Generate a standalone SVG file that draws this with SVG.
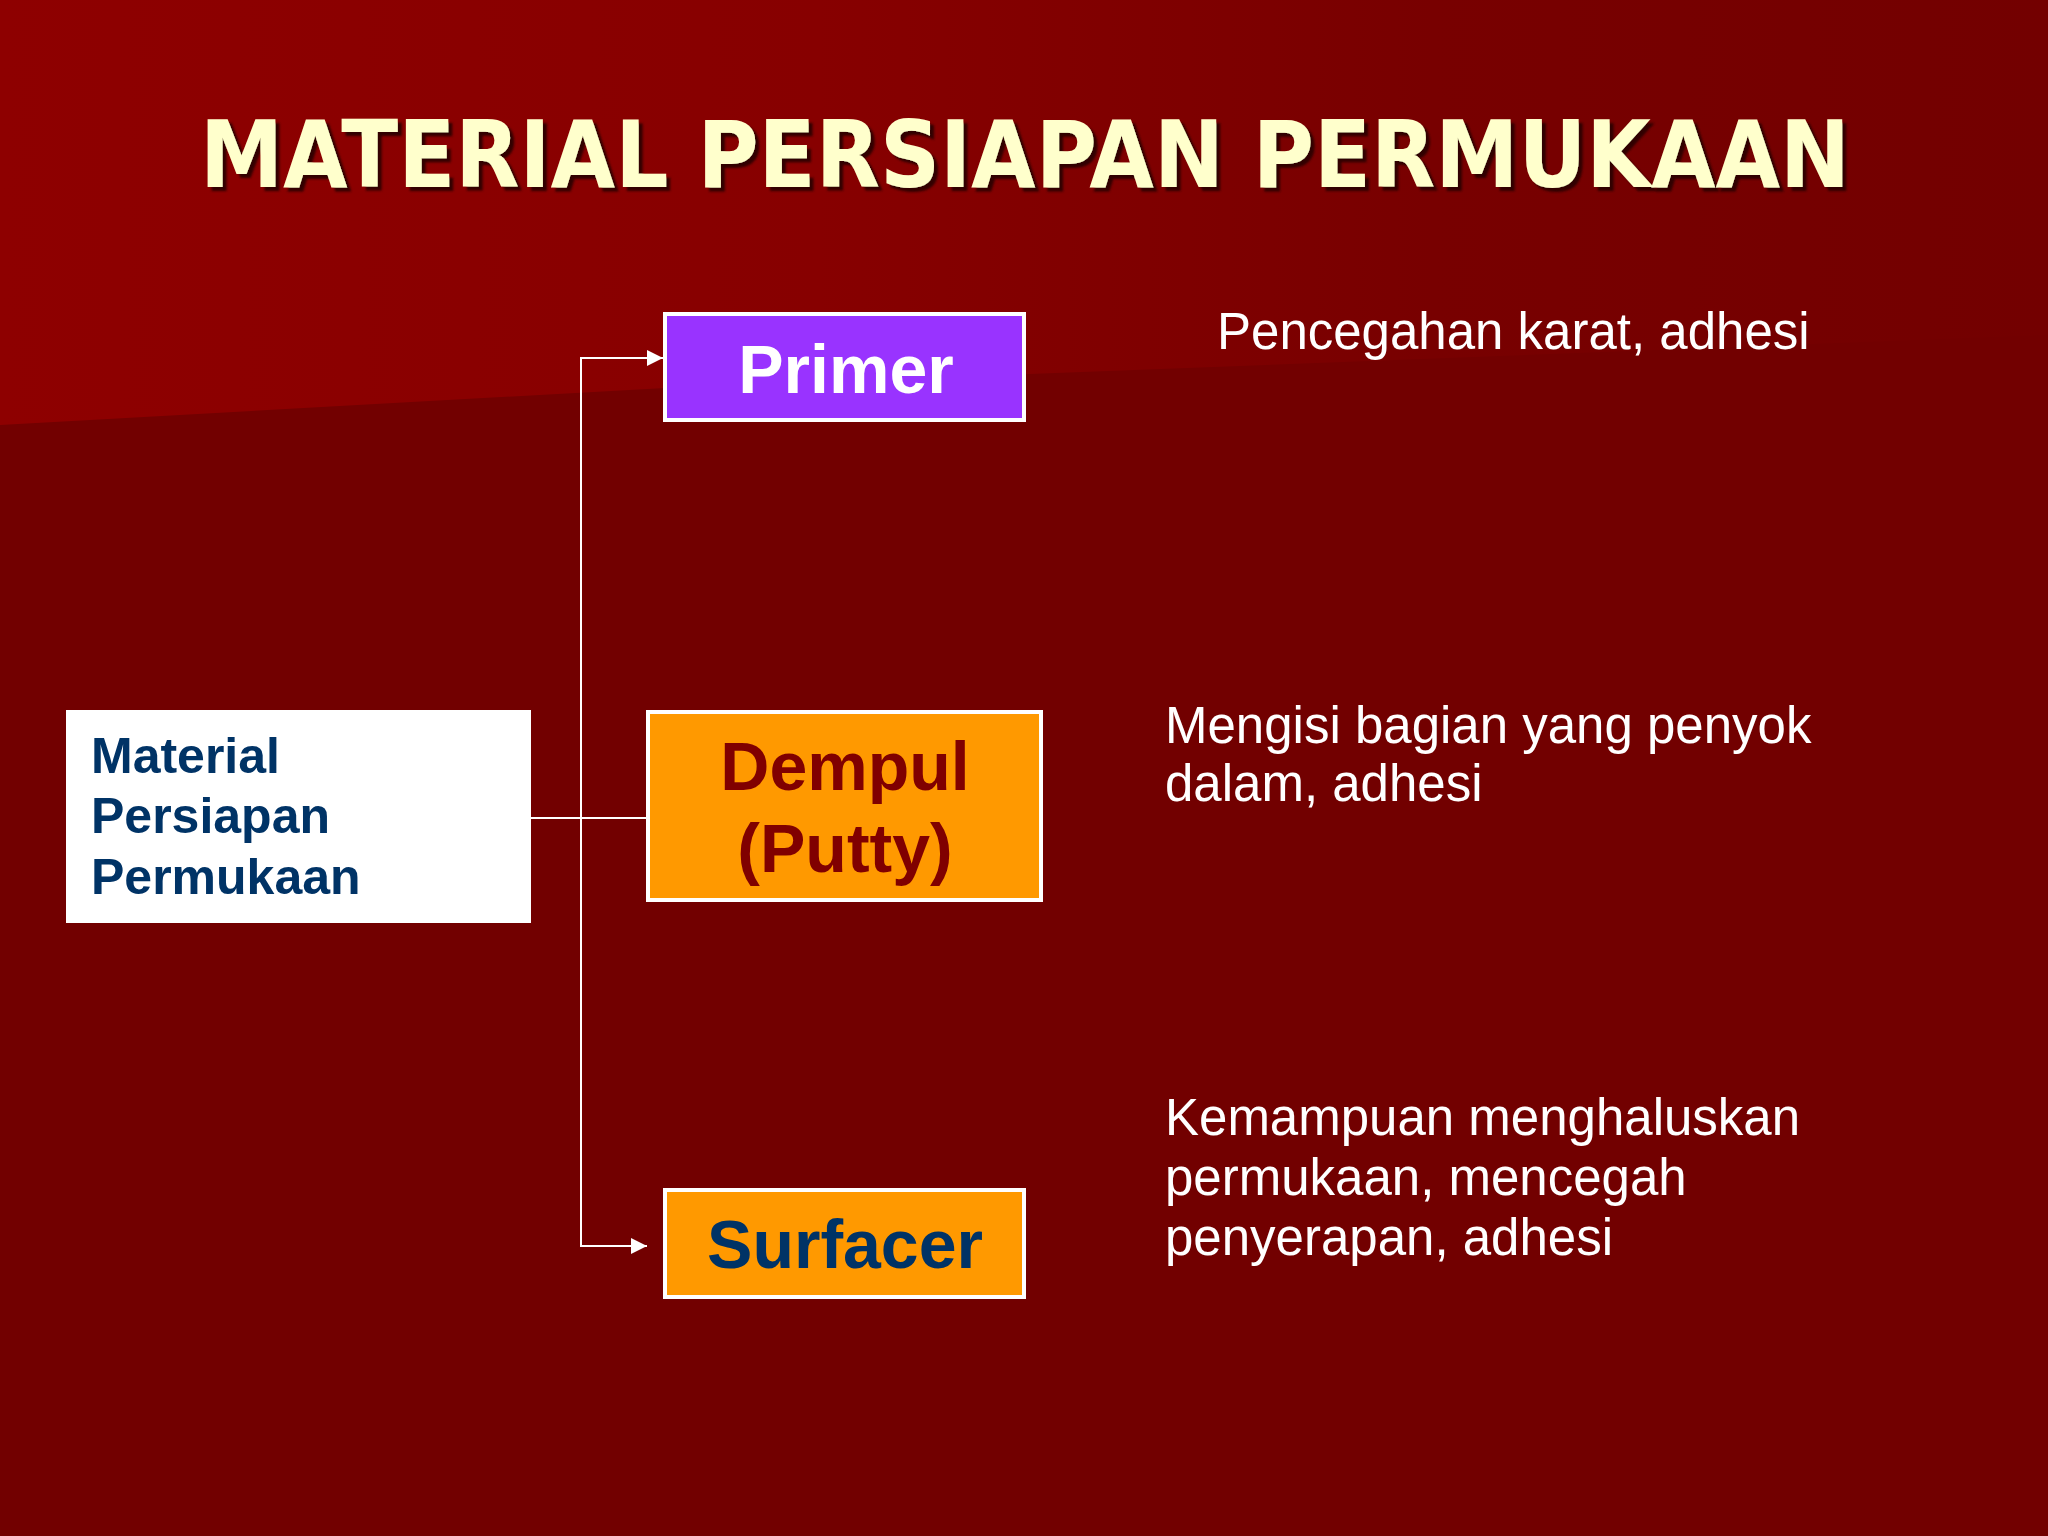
<svg xmlns="http://www.w3.org/2000/svg" width="2048" height="1536" viewBox="0 0 2048 1536">
  <defs>
    <linearGradient id="wedge" x1="0" y1="0" x2="1" y2="0">
      <stop offset="0" stop-color="#8E0000"/>
      <stop offset="0.4" stop-color="#870000"/>
      <stop offset="0.7" stop-color="#780000"/>
      <stop offset="1" stop-color="#730000"/>
    </linearGradient>
    <marker id="arrow" viewBox="0 0 16 16" refX="16" refY="8" markerWidth="16" markerHeight="16" markerUnits="userSpaceOnUse" orient="auto">
      <path d="M0,0 L16,8 L0,16 Z" fill="#FFFFFF"/>
    </marker>
    <filter id="shadow" x="-5%" y="-20%" width="110%" height="140%">
      <feDropShadow dx="4" dy="4" stdDeviation="1" flood-color="#2A0000" flood-opacity="0.9"/>
    </filter>
  </defs>
  <style>
    .box { stroke: #FFFFFF; stroke-width: 4; }
    .lbl { font-family: "Liberation Sans", Arial, sans-serif; font-weight: bold; text-anchor: middle; }
    .desc { font-family: "Liberation Sans", Arial, sans-serif; font-size: 51px; fill: #FFFFFF; }
    .conn { fill: none; stroke: #FFFFFF; stroke-width: 2; }
  </style>

  <!-- background -->
  <rect x="0" y="0" width="2048" height="1536" fill="#720000"/>
  <path d="M0,0 H2048 V335 L665,388 L0,425 Z" fill="url(#wedge)"/>

  <!-- title -->
  <text x="1025" y="187" text-anchor="middle" font-family="'DejaVu Sans', Verdana, sans-serif" font-weight="bold" font-size="93" fill="#FFFFCC" textLength="1650" lengthAdjust="spacingAndGlyphs" filter="url(#shadow)">MATERIAL PERSIAPAN PERMUKAAN</text>

  <!-- connectors -->
  <g id="connectors">
    <path class="conn" d="M531,818 H646"/>
    <path class="conn" d="M581,818 V358 H663" marker-end="url(#arrow)"/>
    <path class="conn" d="M581,818 V1246 H647" marker-end="url(#arrow)"/>
  </g>

  <!-- nodes -->
  <g id="node-material">
    <rect x="66" y="710" width="465" height="213" fill="#FFFFFF"/>
    <text font-family="'Liberation Sans', Arial, sans-serif" font-weight="bold" font-size="50" fill="#003366">
      <tspan x="91" y="773">Material</tspan>
      <tspan x="91" y="833">Persiapan</tspan>
      <tspan x="91" y="894">Permukaan</tspan>
    </text>
  </g>

  <g id="node-primer">
    <rect class="box" x="665" y="314" width="359" height="106" fill="#9933FF"/>
    <text class="lbl" x="846" y="393" font-size="68" fill="#FFFFFF">Primer</text>
  </g>

  <g id="node-dempul">
    <rect class="box" x="648" y="712" width="393" height="188" fill="#FF9900"/>
    <text class="lbl" x="845" y="790" font-size="68" fill="#800000">Dempul</text>
    <text class="lbl" x="845" y="872" font-size="68" fill="#800000">(Putty)</text>
  </g>

  <g id="node-surfacer">
    <rect class="box" x="665" y="1190" width="359" height="107" fill="#FF9900"/>
    <text class="lbl" x="845" y="1268" font-size="68" fill="#003366">Surfacer</text>
  </g>

  <!-- descriptions -->
  <g id="desc-primer">
    <text class="desc" x="1217" y="349">Pencegahan karat, adhesi</text>
  </g>
  <g id="desc-dempul">
    <text class="desc"><tspan x="1165" y="743">Mengisi bagian yang penyok</tspan><tspan x="1165" y="801">dalam, adhesi</tspan></text>
  </g>
  <g id="desc-surfacer">
    <text class="desc"><tspan x="1165" y="1135">Kemampuan menghaluskan</tspan><tspan x="1165" y="1195">permukaan, mencegah</tspan><tspan x="1165" y="1255">penyerapan, adhesi</tspan></text>
  </g>
</svg>
